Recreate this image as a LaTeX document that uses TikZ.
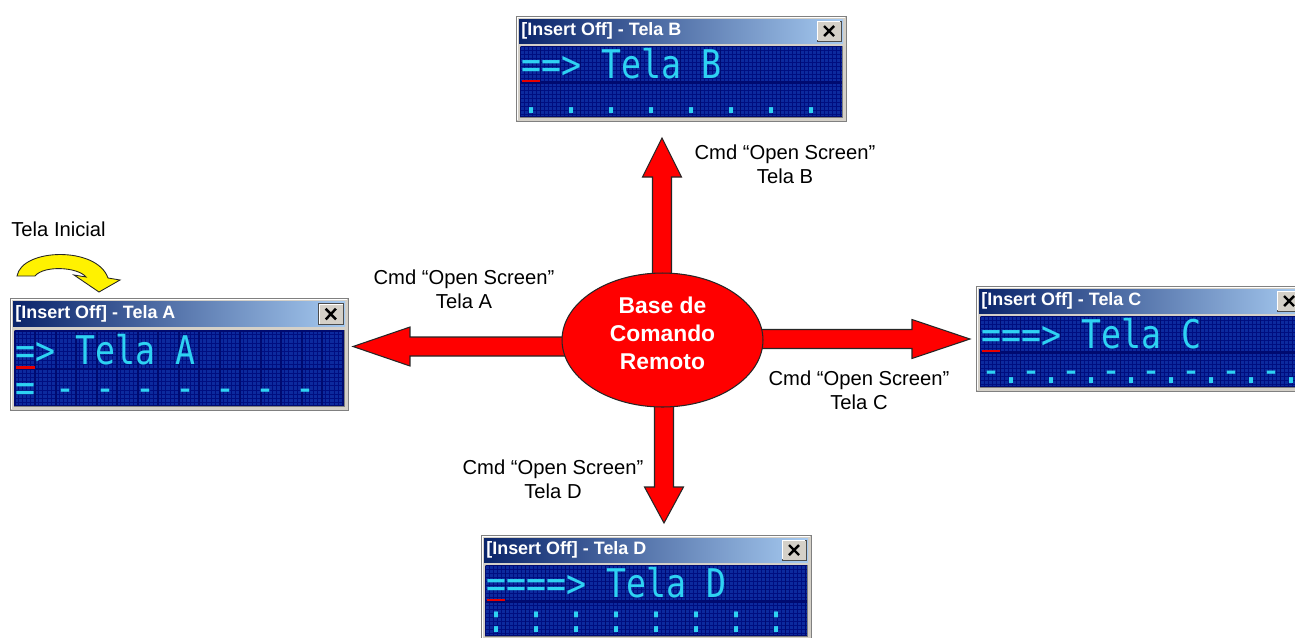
\documentclass[tikz,border=0pt]{standalone}
\usepackage{fontspec}
\setmainfont{Liberation Sans}
\newfontfamily\lcdfont[FakeStretch=0.84]{DejaVu Sans Mono}
\usetikzlibrary{shapes.geometric,calc,backgrounds}

\definecolor{winface}{HTML}{D4D0C8}
\definecolor{titledark}{HTML}{0A246A}
\definecolor{titlelight}{HTML}{A6CAF0}
\definecolor{lcdback}{HTML}{000A70}
\definecolor{lcdcell}{HTML}{0C2A9E}
\definecolor{lcdmesh}{HTML}{000E80}
\definecolor{lcdon}{HTML}{2ED2F2}
\definecolor{arrowred}{HTML}{FF0000}

\tikzset{
  cmd/.style={font=\fontsize{11.5}{13.9}\selectfont, align=center, inner sep=0pt},
  wintitle/.style={font=\fontsize{10.2}{11}\selectfont\bfseries, text=white, anchor=west, inner sep=0pt},
  lcdrow/.style={font=\lcdfont\fontsize{22.5}{22.5}\selectfont, text=lcdon, anchor=base west,
    inner sep=0pt, text height=16pt, text depth=0pt},
  bigarrow/.style={fill=arrowred, draw=black!85, line width=0.6pt},
}

% LCD window: scope options, name, title, line 1, line 2
\newcommand\lcdscreen[5]{%
\begin{scope}[#1]
  \filldraw[fill=winface, draw=gray] (0,0) rectangle (330,105);
  \draw[white] (1,104) -- (1,1) -- (329,1);
  \shade[left color=titledark, right color=titlelight] (3,3) rectangle (327,27);
  \node[wintitle] (#2title) at (5,15) {#3};
  % close button
  \filldraw[fill=winface, draw=black!70] (301,5) rectangle (325,25);
  \draw[white] (301.6,24.4) -- (301.6,5.6) -- (324.4,5.6);
  \draw[line width=1.4pt] (308,10) -- (318,20) (318,10) -- (308,20);
  % dot matrix
  \filldraw[fill=lcdcell, draw=gray] (4,30) rectangle (326,101);
  \foreach \x in {8,12,...,324} \draw[lcdmesh, line width=0.45pt] (\x,30) -- (\x,101);
  \foreach \y in {34,38,...,100} \draw[lcdmesh, line width=0.45pt] (4,\y) -- (326,\y);
  \foreach \k in {0,...,16} \draw[lcdback, line width=1.1pt] (4.5+20*\k,30.5) -- (4.5+20*\k,100.5);
  \draw[lcdback, line width=1.3pt] (4,66.5) -- (326,66.5);
  \draw[lcdback, line width=1pt] (4.5,30.5) -- (325.5,30.5) (4.5,100.5) -- (325.5,100.5);
  \fill[red!90!black] (6,64) rectangle (24,66);
  \node[lcdrow] (#2line1) at (5,62) {#4};
  \node[lcdrow] (#2line2) at (5,97) {#5};
\end{scope}}

\begin{document}
\begin{tikzpicture}[x=0.02cm,y=-0.02cm]
\useasboundingbox (0,0) rectangle (1295,637);
\clip (0,0) rectangle (1295,637);

% screens
\lcdscreen{shift={(10,298)},xscale=1.025,yscale=1.07}{A}{[Insert Off] - Tela A}{=>~Tela~A}{=~-~-~-~-~-~-~-}
\lcdscreen{shift={(516,16)}}{B}{[Insert Off] - Tela B}{==>~Tela~B}{.~.~.~.~.~.~.~.}
\lcdscreen{shift={(976,286)}}{C}{[Insert Off] - Tela C}{===>~Tela~C}{-.-.-.-.-.-.-.-.}
\lcdscreen{shift={(481,535)}}{D}{[Insert Off] - Tela D}{====>~Tela~D}{:~:~:~:~:~:~:~:}

% command base
\node[ellipse, draw=black!85, line width=0.6pt, fill=arrowred, minimum width=4.02cm,
  minimum height=2.68cm, inner sep=0pt] (base) at (662.5,340) {};
\node[align=center, text=white, inner sep=0pt, font=\fontsize{13}{15.9}\selectfont\bfseries]
  (basetext) at ($(base.center)+(0,-7)$) {Base de\\Comando\\Remoto};

\coordinate (tipA) at (353,346.5);
\coordinate (tipB) at (662,138);
\coordinate (tipC) at (970,339);
\coordinate (tipD) at (664,523);

% block arrow: from, to, head length
\newcommand\blockarrow[3]{%
  \coordinate (h) at ($(#2)!#3!(#1)$);
  \filldraw[bigarrow] ($(#1)!0.19cm!90:(#2)$) -- ($(h)!0.19cm!-90:(#1)$)
    -- ($(h)!0.39cm!-90:(#1)$) -- (#2) -- ($(h)!0.39cm!90:(#1)$)
    -- ($(h)!0.19cm!90:(#1)$) -- ($(#1)!0.19cm!-90:(#2)$) -- cycle;}
\begin{scope}[on background layer]
\blockarrow{$(base.center)+(0,6.5)$}{tipA}{1.14cm}
\blockarrow{$(base.center)+(-0.5,0)$}{tipB}{0.78cm}
\blockarrow{$(base.center)+(0,-1)$}{tipC}{1.16cm}
\blockarrow{$(base.center)+(1.5,0)$}{tipD}{0.72cm}
\end{scope}

\node[cmd] (cmdA) at (464,289) {Cmd “Open Screen”\\Tela A};
\node[cmd] (cmdB) at (785,164.5) {Cmd “Open Screen”\\Tela B};
\node[cmd] (cmdC) at (859,390.5) {Cmd “Open Screen”\\Tela C};
\node[cmd] (cmdD) at (553,479) {Cmd “Open Screen”\\Tela D};

% start screen
\node[cmd, anchor=west] (start) at (11,229) {Tela Inicial};
\filldraw[fill=yellow, draw=black!85, line width=0.5pt]
  (17,276) .. controls (22,248) and (97,246) .. (108,278) -- (120,280) -- (99,292)
  -- (74,275) -- (86,277) .. controls (78,267) and (44,265) .. (35,276) -- cycle;
\end{tikzpicture}
\end{document}
